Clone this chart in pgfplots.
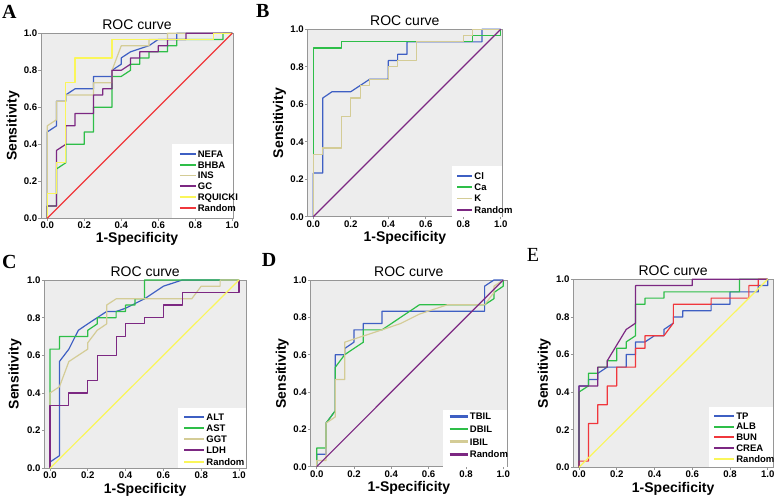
\documentclass[border=0pt]{standalone}
\usepackage{pgfplots}
\pgfplotsset{compat=1.18}
\usepackage{fontspec}
\setmainfont{Liberation Sans}
\newfontfamily\lettfont{Liberation Serif}
\definecolor{sblue}{RGB}{62,95,195}
\definecolor{sgreen}{RGB}{46,190,72}
\definecolor{stan}{RGB}{212,204,150}
\definecolor{spurple}{RGB}{124,40,130}
\definecolor{syellow}{RGB}{250,246,90}
\definecolor{sred}{RGB}{240,55,60}
\definecolor{sbg}{RGB}{237,237,237}
\definecolor{sframe}{RGB}{150,150,150}
\pgfplotsset{
  rocax/.style={
    scale only axis, anchor=south west, ymin=0, ymax=1, clip=false,
    axis background/.style={fill=sbg},
    axis line style={draw=sframe, line width=0.8pt},
    tick align=outside, xtick pos=bottom, ytick pos=left,
    major tick length=2.5pt, tick style={sframe, line width=0.6pt},
    xtick={0,0.2,0.4,0.6,0.8,1}, ytick={0,0.2,0.4,0.6,0.8,1},
    /pgf/number format/assume math mode=true,
    /pgf/number format/.cd, fixed, fixed zerofill, precision=1, /pgfplots/.cd,
    tick label style={font=\fontsize{9.6}{10}\selectfont\bfseries, inner sep=1.2pt, text depth=0pt},
    title={ROC curve},
    every axis title/.style={at={(0.5,1)}, anchor=base, yshift=4pt, inner sep=0pt, font=\fontsize{14}{15}\selectfont},
    xlabel={1-Specificity}, ylabel={Sensitivity},
    xlabel style={at={(axis description cs:0.5,-0.133)}, anchor=base, inner sep=0pt, font=\fontsize{14}{15}\selectfont\bfseries},
    ylabel style={at={(axis description cs:-0.127,0.5)}, anchor=base, rotate=0, inner sep=0pt, font=\fontsize{14}{15}\selectfont\bfseries},
    legend cell align=left,
    every axis plot/.append style={line width=1.2pt, line join=round},
  },
  leg/.style n args={5}{
    legend style={at={(axis cs:#1,#2)}, anchor=north west, draw=none, fill=none,
      font=\fontsize{9.5}{10}\selectfont\bfseries, row sep=#3,
      nodes={inner ysep=0pt, inner xsep=1.2pt, text height=6.8pt, text depth=0pt}},
    legend image code/.code={\draw[##1, line width=#5] (0pt,0pt) -- (#4,0pt);},
  },
}
\begin{document}
\begin{tikzpicture}[x=1pt,y=1pt]
\useasboundingbox (0,0) rectangle (778,499);
\node[anchor=base west, inner sep=0pt, font=\lettfont\bfseries\fontsize{20}{20}\selectfont] at (2,480.7) {A};
\node[anchor=base west, inner sep=0pt, font=\lettfont\bfseries\fontsize{20}{20}\selectfont] at (256,481) {B};
\node[anchor=base west, inner sep=0pt, font=\lettfont\bfseries\fontsize{20}{20}\selectfont] at (2,230.7) {C};
\node[anchor=base west, inner sep=0pt, font=\lettfont\bfseries\fontsize{20}{20}\selectfont] at (261.7,232.3) {D};
\node[anchor=base west, inner sep=0pt, font=\lettfont\fontsize{20}{20}\selectfont] at (526.7,237.3) {E};

% ---------- A ----------
\begin{axis}[rocax, at={(41pt,280.7pt)}, width=192pt, height=185pt, xmin=-0.034, xmax=1.004,
  leg={0.694}{0.378}{4.0pt}{16pt}{1.8pt}]
\fill[white] (axis cs:0.676,0) rectangle (axis cs:1.004,0.402);
\addplot[sblue] coordinates {(0,0) (0,0.467) (0.05,0.5) (0.05,0.633) (0.1,0.633) (0.1,0.667) (0.15,0.7) (0.25,0.7) (0.25,0.767) (0.35,0.767) (0.35,0.8) (0.4,0.833) (0.4,0.867) (0.45,0.9) (0.55,0.933) (0.6,0.967) (0.7,0.967) (0.7,1) (1,1)};
\addlegendentry{NEFA}
\addplot[sgreen] coordinates {(0,0) (0,0.067) (0.05,0.067) (0.05,0.267) (0.1,0.3) (0.1,0.4) (0.2,0.4) (0.2,0.467) (0.25,0.467) (0.25,0.6) (0.35,0.6) (0.35,0.767) (0.4,0.767) (0.45,0.8) (0.45,0.833) (0.5,0.833) (0.5,0.867) (0.55,0.867) (0.55,0.9) (0.65,0.9) (0.65,0.933) (0.7,0.933) (0.7,0.967) (0.95,0.967) (0.95,1) (1,1)};
\addlegendentry{BHBA}
\addplot[stan] coordinates {(0,0) (0,0.5) (0.05,0.533) (0.05,0.633) (0.1,0.633) (0.1,0.667) (0.25,0.667) (0.25,0.733) (0.35,0.733) (0.35,0.8) (0.4,0.933) (0.55,0.933) (0.55,0.967) (0.65,0.967) (0.65,1) (1,1)};
\addlegendentry{INS}
\addplot[spurple] coordinates {(0,0) (0,0.067) (0.05,0.067) (0.05,0.367) (0.1,0.4) (0.1,0.5) (0.15,0.5) (0.15,0.567) (0.25,0.567) (0.25,0.667) (0.3,0.667) (0.3,0.7) (0.35,0.7) (0.35,0.8) (0.4,0.8) (0.45,0.833) (0.45,0.867) (0.5,0.867) (0.5,0.9) (0.6,0.9) (0.6,0.933) (0.65,0.933) (0.65,0.967) (0.75,0.967) (0.75,1) (1,1)};
\addlegendentry{GC}
\addplot[syellow] coordinates {(0,0) (0,0.133) (0.05,0.133) (0.05,0.3) (0.1,0.3) (0.1,0.733) (0.15,0.733) (0.15,0.867) (0.35,0.867) (0.35,0.967) (0.9,0.967) (0.9,1) (1,1)};
\addlegendentry{RQUICKI}
\addplot[sred] coordinates {(0,0) (1,1)};
\addlegendentry{Random}
\end{axis}

% ---------- B ----------
\begin{axis}[rocax, at={(307.7pt,282.3pt)}, width=194.3pt, height=187.4pt, xmin=-0.030, xmax=1.007,
  leg={0.747}{0.249}{4.6pt}{15pt}{1.8pt}]
\fill[white] (axis cs:0.738,0) rectangle (axis cs:1.007,0.272);
\addplot[sblue] coordinates {(0,0) (0,0.233) (0.05,0.233) (0.05,0.633) (0.1,0.667) (0.2,0.667) (0.25,0.7) (0.3,0.733) (0.4,0.733) (0.4,0.833) (0.45,0.833) (0.45,0.867) (0.5,0.867) (0.5,0.933) (0.8,0.933) (0.9,0.933) (0.9,1) (1,1)};
\addlegendentry{Cl}
\addplot[sgreen] coordinates {(0,0) (0,0.9) (0.15,0.9) (0.15,0.933) (0.85,0.933) (0.85,0.967) (1,0.967) (1,1)};
\addlegendentry{Ca}
\addplot[stan] coordinates {(0,0) (0,0.333) (0.05,0.333) (0.05,0.367) (0.15,0.367) (0.15,0.533) (0.2,0.533) (0.2,0.633) (0.25,0.633) (0.25,0.7) (0.3,0.7) (0.3,0.733) (0.4,0.733) (0.4,0.8) (0.45,0.8) (0.45,0.833) (0.55,0.833) (0.55,0.933) (0.8,0.933) (0.8,0.967) (0.85,0.967) (0.85,1) (1,1)};
\addlegendentry{K}
\addplot[spurple] coordinates {(0,0) (1,1)};
\addlegendentry{Random}
\end{axis}

% ---------- C ----------
\begin{axis}[rocax, at={(44.3pt,30.7pt)}, width=201.7pt, height=188.3pt, xmin=-0.030, xmax=1.037,
  leg={0.688}{0.303}{4.4pt}{20pt}{2pt}]
\fill[white] (axis cs:0.679,0) rectangle (axis cs:1.037,0.321);
\addplot[sblue] coordinates {(0,0) (0,0.033) (0.05,0.067) (0.05,0.567) (0.1,0.633) (0.15,0.733) (0.2,0.767) (0.3,0.833) (0.35,0.833) (0.4,0.85) (0.5,0.9) (0.6,0.967) (0.7,1) (1,1)};
\addlegendentry{ALT}
\addplot[sgreen] coordinates {(0,0) (0,0.633) (0.05,0.633) (0.05,0.7) (0.2,0.7) (0.2,0.733) (0.25,0.767) (0.25,0.8) (0.35,0.8) (0.35,0.833) (0.4,0.833) (0.4,0.867) (0.45,0.867) (0.45,0.9) (0.5,0.9) (0.5,1) (1,1)};
\addlegendentry{AST}
\addplot[stan] coordinates {(0,0) (0,0.4) (0.05,0.433) (0.1,0.567) (0.15,0.6) (0.2,0.633) (0.2,0.667) (0.25,0.733) (0.3,0.767) (0.3,0.867) (0.35,0.9) (0.75,0.9) (0.8,0.967) (0.9,0.967) (0.9,1) (1,1)};
\addlegendentry{GGT}
\addplot[spurple] coordinates {(0,0) (0,0.333) (0.1,0.333) (0.1,0.4) (0.2,0.4) (0.2,0.467) (0.25,0.467) (0.25,0.6) (0.35,0.6) (0.35,0.7) (0.4,0.7) (0.4,0.767) (0.5,0.767) (0.5,0.8) (0.6,0.8) (0.6,0.867) (0.7,0.867) (0.7,0.933) (1,0.933) (1,1)};
\addlegendentry{LDH}
\addplot[syellow] coordinates {(0,0) (1,1)};
\addlegendentry{Random}
\end{axis}

% ---------- D ----------
\begin{axis}[rocax, at={(310.7pt,32.3pt)}, width=196.3pt, height=186.7pt, xmin=-0.032, xmax=1.020,
  leg={0.688}{0.299}{5.8pt}{18pt}{2.5pt}]
\fill[white] (axis cs:0.678,0) rectangle (axis cs:1.020,0.304);
\addplot[sblue] coordinates {(0,0) (0,0.067) (0.05,0.067) (0.05,0.233) (0.1,0.3) (0.1,0.6) (0.15,0.6) (0.15,0.633) (0.2,0.667) (0.2,0.733) (0.25,0.733) (0.25,0.767) (0.35,0.767) (0.35,0.833) (0.9,0.833) (0.9,0.967) (0.95,1) (1,1)};
\addlegendentry{TBIL}
\addplot[sgreen] coordinates {(0,0) (0,0.1) (0.05,0.1) (0.05,0.233) (0.1,0.3) (0.1,0.533) (0.15,0.6) (0.25,0.667) (0.25,0.733) (0.35,0.733) (0.55,0.867) (0.9,0.867) (0.95,0.9) (0.95,0.933) (1,0.967) (1,1)};
\addlegendentry{DBIL}
\addplot[stan] coordinates {(0,0) (0,0.033) (0.05,0.033) (0.05,0.233) (0.1,0.267) (0.1,0.467) (0.15,0.467) (0.15,0.667) (0.25,0.7) (0.35,0.733) (0.45,0.767) (0.55,0.817) (0.7,0.867) (0.9,0.867) (0.95,0.933) (0.95,0.967) (1,1)};
\addlegendentry{IBIL}
\addplot[spurple] coordinates {(0,0) (1,1)};
\addlegendentry{Random}
\end{axis}

% ---------- E ----------
\begin{axis}[rocax, at={(573.3pt,31.7pt)}, width=199.7pt, height=188pt, xmin=-0.030, xmax=1.028,
  leg={0.694}{0.304}{4.0pt}{20pt}{2pt}]
\fill[white] (axis cs:0.689,0) rectangle (axis cs:1.028,0.321);
\addplot[sblue] coordinates {(0,0) (0,0.433) (0.05,0.433) (0.05,0.467) (0.1,0.467) (0.1,0.5) (0.15,0.533) (0.25,0.533) (0.25,0.6) (0.3,0.6) (0.3,0.667) (0.35,0.667) (0.4,0.7) (0.45,0.7) (0.45,0.733) (0.5,0.767) (0.5,0.8) (0.55,0.8) (0.55,0.833) (0.7,0.833) (0.7,0.867) (0.8,0.867) (0.8,0.933) (0.95,0.933) (0.95,0.967) (1,0.967) (1,1)};
\addlegendentry{TP}
\addplot[sgreen] coordinates {(0,0) (0,0.4) (0.05,0.433) (0.05,0.5) (0.1,0.5) (0.1,0.533) (0.15,0.533) (0.15,0.567) (0.2,0.567) (0.2,0.633) (0.25,0.633) (0.25,0.667) (0.3,0.7) (0.3,0.867) (0.35,0.867) (0.35,0.9) (0.45,0.9) (0.45,0.933) (0.85,0.933) (0.85,1) (1,1)};
\addlegendentry{ALB}
\addplot[sred] coordinates {(0,0) (0,0.033) (0.05,0.033) (0.05,0.233) (0.1,0.233) (0.1,0.333) (0.15,0.333) (0.15,0.433) (0.2,0.433) (0.2,0.533) (0.3,0.533) (0.3,0.633) (0.35,0.633) (0.35,0.7) (0.45,0.7) (0.5,0.767) (0.5,0.867) (0.7,0.867) (0.7,0.9) (0.9,0.9) (0.9,0.967) (0.95,0.967) (0.95,1) (1,1)};
\addlegendentry{BUN}
\addplot[spurple] coordinates {(0,0) (0,0.433) (0.1,0.433) (0.1,0.533) (0.15,0.533) (0.15,0.567) (0.25,0.733) (0.3,0.767) (0.3,0.967) (0.6,0.967) (0.6,1) (1,1)};
\addlegendentry{CREA}
\addplot[syellow] coordinates {(0,0) (1,1)};
\addlegendentry{Random}
\end{axis}
\end{tikzpicture}
\end{document}
